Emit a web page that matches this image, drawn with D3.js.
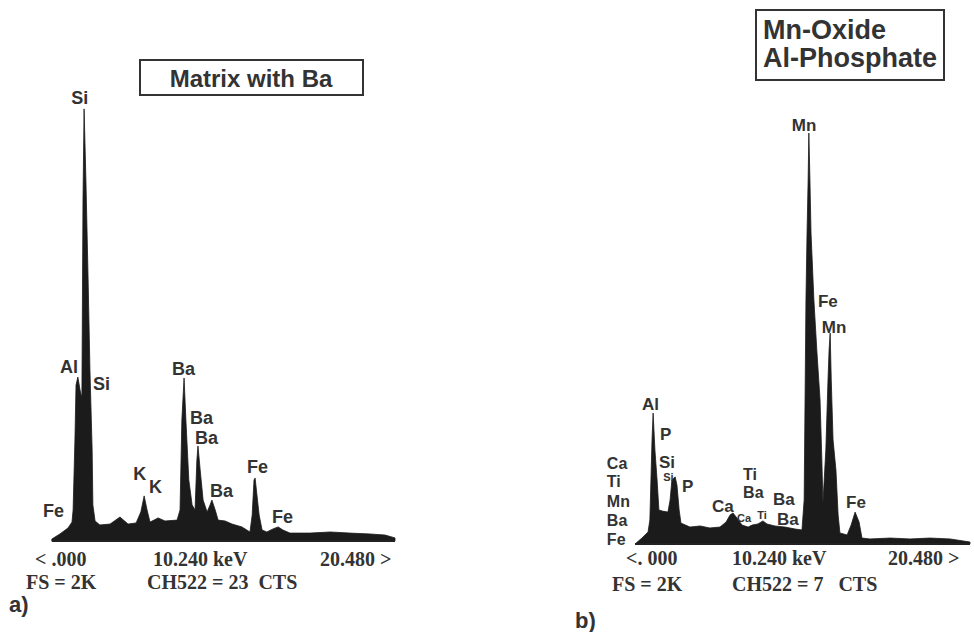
<!DOCTYPE html>
<html>
<head>
<meta charset="utf-8">
<script src="https://cdn.jsdelivr.net/npm/d3@7"></script>
<style>
  body { margin: 0; background: #fff; }
  .peak { font-family: "Liberation Sans", Arial, sans-serif; font-weight: bold; fill: #333; }
  .scale { font-family: "Liberation Serif", "Times New Roman", serif; font-weight: bold; fill: #333; font-size: 20px; }
</style>
</head>
<body>
<div class="eds"></div>
<script>
// spectrum a) matrix with Ba  (energy keV, counts)
var energyA = [0.87, 1.09, 1.31, 1.42, 1.45, 1.50, 1.53, 1.58, 1.64, 1.69, 1.72, 1.75, 1.80, 1.86, 1.91, 1.97, 1.99, 2.05,
  2.18, 2.46, 2.73, 2.95, 3.17, 3.30, 3.39, 3.47, 3.55, 3.66, 3.77, 3.96, 4.29, 4.37, 4.42, 4.48, 4.53, 4.61, 4.70, 4.78,
  4.83, 4.86, 4.92, 5.00, 5.11, 5.19, 5.24, 5.33, 5.41, 5.60, 5.79, 6.06, 6.28, 6.34, 6.39, 6.42, 6.47, 6.53, 6.61, 6.74,
  6.91, 7.05, 7.18, 7.37, 7.92, 8.47, 9.01, 9.56, 9.97, 10.24];
var countsA = [9, 32, 59, 86, 141, 459, 709, 745, 686, 650, 1550, 1964, 1641, 1186, 777, 414, 164, 91,
  73, 77, 109, 77, 82, 132, 205, 141, 86, 95, 105, 91, 95, 141, 550, 741, 550, 277, 164, 141,
  368, 432, 323, 186, 132, 164, 186, 141, 95, 91, 77, 64, 41, 118, 277, 286, 209, 118, 50, 41,
  55, 64, 50, 36, 36, 41, 36, 32, 27, 14];

// spectrum b) Mn-oxide / Al-phosphate
var energyB = [0.97, 1.16, 1.33, 1.38, 1.41, 1.44, 1.47, 1.52, 1.58, 1.63, 1.72, 1.88, 1.94, 1.99, 2.08, 2.13, 2.19, 2.24,
  2.49, 2.77, 3.04, 3.32, 3.49, 3.60, 3.68, 3.79, 3.93, 4.10, 4.21, 4.37, 4.51, 4.62, 4.84, 5.12, 5.40, 5.59,
  5.65, 5.67, 5.70, 5.73, 5.76, 5.78, 5.81, 5.84, 5.92, 6.00, 6.09, 6.14, 6.17, 6.25, 6.31, 6.34, 6.37, 6.40, 6.45,
  6.53, 6.59, 6.64, 6.84, 6.95, 7.06, 7.17, 7.25, 7.47, 8.03, 8.58, 9.13, 9.69, 10.24];
var countsB = [0, 27, 55, 109, 291, 473, 595, 427, 291, 155, 150, 145, 200, 291, 305, 268, 155, 95,
  77, 82, 73, 77, 100, 132, 141, 118, 86, 77, 86, 91, 105, 91, 82, 77, 68, 64,
  200, 564, 1109, 1414, 1655, 1868, 1655, 1414, 1109, 882, 655, 382, 186, 427, 745, 882, 959, 745, 473,
  336, 132, 50, 41, 86, 145, 100, 27, 23, 27, 23, 27, 23, 9];

// peak labels: [element, energy, counts, size code (1 small, 2 stacked)]
var labelsA = [["Si", 1.40, 1986], ["Al", 1.09, 764], ["Si", 1.99, 686], ["Ba", 4.15, 755], ["Ba", 4.64, 532],
  ["Ba", 4.78, 441], ["K", 3.09, 277], ["K", 3.52, 218], ["Ba", 5.19, 200], ["Fe", 6.20, 309], ["Fe", 6.88, 82],
  ["Fe", 0.63, 109]];
var labelsB = [["Al", 1.16, 609], ["P", 1.66, 473], ["Si", 1.63, 345], ["Si", 1.75, 286, 1], ["P", 2.27, 236],
  ["Ca", 0.19, 343, 2], ["Ti", 0.19, 259, 2], ["Mn", 0.19, 166, 2], ["Ba", 0.19, 82, 2], ["Fe", 0.19, -5, 2],
  ["Ca", 3.10, 145], ["Ca", 3.79, 100, 1], ["Ti", 4.35, 114, 1], ["Ti", 3.96, 293, 2], ["Ba", 3.96, 207, 2],
  ["Ba", 4.79, 177], ["Ba", 4.90, 86], ["Mn", 5.31, 1877], ["Fe", 6.03, 1077], ["Mn", 6.14, 959], ["Fe", 6.81, 164]];

var scaleLabels = ["< .000", "10.240 keV", "20.480 >"];
var scaleLabelsB = ["<. 000", "10.240 keV", "20.480  >"];
var footerA = ["FS = 2K", "CH522 = 23  CTS"];
var footerB = ["FS = 2K", "CH522 = 7   CTS"];
var titleA = ["Matrix with Ba"];
var titleB = ["Mn-Oxide", "Al-Phosphate"];

var svgWidth = 974;
var svgHeight = 632;

var svg = d3.select(".eds")
            .append("svg")
            .attr("width", svgWidth)
            .attr("height", svgHeight);

function drawPanel(opt) {
  var x = d3.scaleLinear().domain([0, 10.24]).range(opt.xRange);
  var y = d3.scaleLinear().domain([0, 2000]).range(opt.yRange);
  var g = svg.append("g");

  var pts = opt.energy.map(function(e, i) { return [e, opt.counts[i]]; });
  var area = d3.area()
    .x(function(d) { return x(d[0]); })
    .y0(y(0))
    .y1(function(d) { return y(d[1]); });

  g.append("path")
    .datum(pts)
    .attr("d", area)
    .attr("fill", "#1b1b1b")
    .attr("stroke", "#1b1b1b")
    .attr("stroke-width", 0.8);

  // thin baseline bar under the spectrum
  g.append("line")
    .attr("x1", x(opt.energy[0])).attr("x2", x(opt.energy[opt.energy.length - 1]))
    .attr("y1", y(0)).attr("y2", y(0))
    .attr("stroke", "#222").attr("stroke-width", 2);

  g.selectAll("text.peak")
    .data(opt.labels)
    .enter()
    .append("text")
    .attr("class", "peak")
    .attr("x", function(d) { return x(d[1]); })
    .attr("y", function(d) { return y(d[2]); })
    .attr("font-size", function(d) {
      if (d[3] == 1) return "11px";
      if (d[3] == 2) return "16px";
      return opt.labelSize;
    })
    .text(function(d) { return d[0]; });

  // energy scale readout
  g.selectAll("text.scale")
    .data(opt.scale)
    .enter()
    .append("text")
    .attr("class", "scale")
    .attr("x", function(d, i) { return opt.scaleX[i]; })
    .attr("y", opt.scaleY)
    .text(function(d) { return d; });

  g.selectAll("text.foot")
    .data(opt.footer)
    .enter()
    .append("text")
    .attr("class", "scale")
    .attr("x", function(d, i) { return opt.footX[i]; })
    .attr("y", opt.footY)
    .style("white-space", "pre")
    .text(function(d) { return d; });

  // title box
  g.append("rect")
    .attr("x", opt.box[0]).attr("y", opt.box[1])
    .attr("width", opt.box[2]).attr("height", opt.box[3])
    .attr("fill", "none").attr("stroke", "#333").attr("stroke-width", 2);

  g.selectAll("text.title")
    .data(opt.title)
    .enter()
    .append("text")
    .attr("class", "peak")
    .attr("x", opt.titleX)
    .attr("y", function(d, i) { return opt.titleY + i * 28; })
    .attr("text-anchor", opt.titleAnchor)
    .attr("font-size", opt.titleSize)
    .text(function(d) { return d; });

  g.append("text")
    .attr("class", "peak")
    .attr("x", opt.tag[1]).attr("y", opt.tag[2])
    .attr("font-size", "22px")
    .text(opt.tag[0]);
}

drawPanel({
  energy: energyA, counts: countsA, labels: labelsA,
  xRange: [20, 395], yRange: [541, 101], labelSize: "18px",
  scale: scaleLabels, scaleX: [35, 153, 320], scaleY: 566,
  footer: footerA, footX: [26, 147], footY: 589,
  box: [140, 60, 223, 35], title: titleA, titleX: 251, titleY: 87, titleAnchor: "middle", titleSize: "24px",
  tag: ["a)", 9, 612]
});

drawPanel({
  energy: energyB, counts: countsB, labels: labelsB,
  xRange: [600, 970], yRange: [544, 104], labelSize: "17px",
  scale: scaleLabelsB, scaleX: [626, 732, 888], scaleY: 565,
  footer: footerB, footX: [612, 732], footY: 591,
  box: [756, 10, 188, 70], title: titleB, titleX: 763, titleY: 39, titleAnchor: "start", titleSize: "27px",
  tag: ["b)", 575, 628]
});
</script>
</body>
</html>
